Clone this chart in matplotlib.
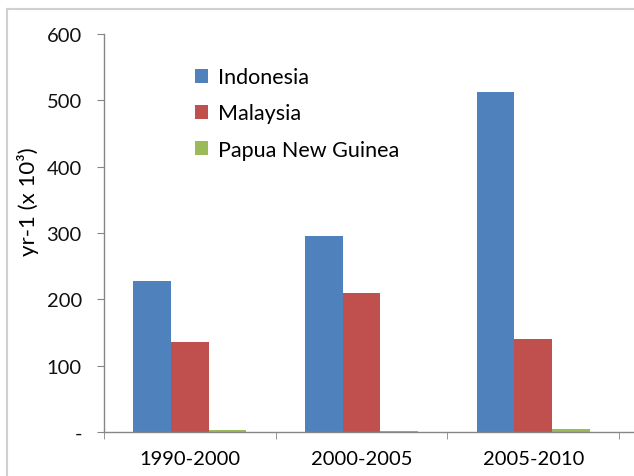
import matplotlib
matplotlib.use("Agg")
import matplotlib.pyplot as plt
from matplotlib.lines import Line2D
from matplotlib.patches import Patch
import numpy as np

plt.rcParams['font.family'] = ['Lato', 'DejaVu Sans']

categories = ["1990-2000", "2000-2005", "2005-2010"]
series_names = ["Indonesia", "Malaysia", "Papua New Guinea"]
indonesia = [228, 295, 513]
malaysia = [135, 210, 140]
png = [3, 2, 4]
yticks = [0, 100, 200, 300, 400, 500, 600]
ytick_labels = ["-", "100", "200", "300", "400", "500", "600"]
colors = ["#4F81BD", "#C0504D", "#9BBB59"]

fig = plt.figure(figsize=(6.34, 4.77), dpi=100)
ax = fig.add_axes([104/634, 44/477, 530/634, 398/477])

x = np.arange(len(categories))
w = 0.22
for i, (vals, name) in enumerate(zip([indonesia, malaysia, png], series_names)):
    ax.bar(x + (i - 1) * w, vals, width=w, color=colors[i], label=name, zorder=2)

ax.set_ylim(0, 600)
ax.set_xlim(-0.5, 2.5 + 15/172)
ax.set_yticks(yticks)
ax.set_yticklabels(ytick_labels, fontsize=14.5, color="#111111")
ax.set_xticks(x)
ax.set_xticklabels(categories, fontsize=14.5, color="#000000")
ax.set_xticks([-0.5, 0.5, 1.5, 2.5], minor=True)
ax.tick_params(axis='x', which='major', length=0, pad=13)
ax.tick_params(axis='x', which='minor', length=5, color="#868686", direction='out')
ax.tick_params(axis='y', length=5, color="#868686", direction='out', pad=11)

for s in ['top', 'right']:
    ax.spines[s].set_visible(False)
for s in ['left', 'bottom']:
    ax.spines[s].set_color("#868686")
    ax.spines[s].set_linewidth(1.0)

ax.set_ylabel("yr-1 (x 10\u00b3)", fontsize=16, color="#000000")
ax.yaxis.set_label_coords(-0.122, 0.58)

handles = [Patch(facecolor=c, edgecolor='none') for c in colors]
leg = ax.legend(handles, series_names, loc='upper left', bbox_to_anchor=(0.135, 0.965),
                frameon=False, fontsize=15.5, handlelength=0.6, handleheight=0.6,
                handletextpad=0.45, labelspacing=0.75)
for t in leg.get_texts():
    t.set_color("#000000")

# figure border (light gray, left and top)
fig.add_artist(Line2D([7/634, 7/634], [0, 1 - 10/477], transform=fig.transFigure,
                      color="#d0d0d0", linewidth=1.5))
fig.add_artist(Line2D([7/634, 1], [1 - 10/477, 1 - 10/477], transform=fig.transFigure,
                      color="#d0d0d0", linewidth=1.5))

fig.savefig("out.png", dpi=100)
